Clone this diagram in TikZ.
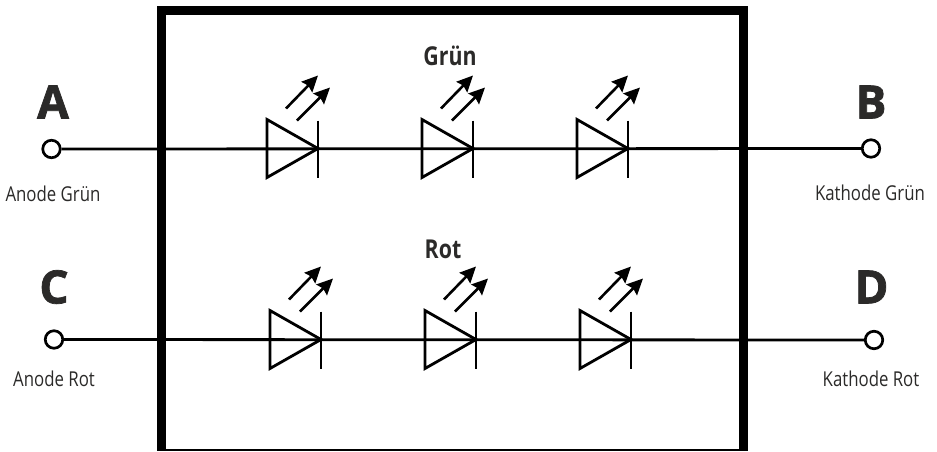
\documentclass[tikz,border=0pt]{standalone}
\usepackage{fontspec}
\setmainfont{Open Sans}[FakeStretch=0.82]
\newfontfamily\bigf{Open Sans}[FakeBold=1.6,BoldFont={Open Sans Bold}]
\usetikzlibrary{arrows.meta}
\definecolor{txt}{HTML}{2B2A29}
\tikzset{
  x=1pt,y=-1pt,
  wire/.style={line width=2.8pt,black},
  term/.style={circle,draw=black,line width=2.7pt,fill=white,minimum size=17.5pt,inner sep=0pt},
  big/.style={font=\fontsize{46}{46}\selectfont\bigf\bfseries,text=txt,inner sep=0pt},
  small/.style={font=\fontsize{20.5}{22}\selectfont,text=txt,inner sep=0pt},
  head/.style={font=\fontsize{26}{28}\selectfont\bfseries,text=txt,inner sep=0pt},
  ray/.style={line width=2.6pt,-{Stealth[length=16pt,width=15pt,inset=2pt]}},
}
\newcommand{\ledsym}[3]{%
  \coordinate (#3a) at (#1,#2);
  \coordinate (#3k) at (#1+51,#2);
  \draw[wire,line join=miter] (#1,#2-29) -- (#1,#2+29) -- (#1+51,#2) -- cycle;
  \draw[wire] (#1+51,#2-28) -- (#1+51,#2+29);
  \draw[ray] (#1+19,#2-40) -- (#1+51,#2-73);
  \draw[ray] (#1+30,#2-28) -- (#1+63,#2-61);
}
\begin{document}
\begin{tikzpicture}
\useasboundingbox (0,0) rectangle (937,451);
\fill[white] (0,0) rectangle (937,451);
\node[term] (A) at (51.5,149) {};
\node[term] (B) at (871,148.5) {};
\node[term] (C) at (54,339.5) {};
\node[term] (D) at (874,340) {};
\draw[wire] (A) -- (B);
\draw[wire] (C) -- (D);
\fill[black] (157,5.5) rectangle (748,14.5);
\fill[black] (157,5.5) rectangle (166,451);
\fill[black] (739,5.5) rectangle (748,451);
\fill[black] (157,449) rectangle (748,451);
\ledsym{267}{148.5}{g1}
\ledsym{422}{148.5}{g2}
\ledsym{577}{148.5}{g3}
\ledsym{270}{339.5}{r1}
\ledsym{425}{339.5}{r2}
\ledsym{580}{339.5}{r3}
\node[big] (la) at (53,102) {A};
\node[big] (lb) at (871,102) {B};
\node[big] (lc) at (54,287) {C};
\node[big] (ld) at (871.5,287) {D};
\node[small] (ta) at (53,194) {Anode Grün};
\node[small] (tb) at (870,193) {Kathode Grün};
\node[small] (tc) at (54,379) {Anode Rot};
\node[small] (td) at (871,379) {Kathode Rot};
\node[head] (gr) at (450,56) {Grün};
\node[head] (ro) at (443,249) {Rot};
\end{tikzpicture}
\end{document}
